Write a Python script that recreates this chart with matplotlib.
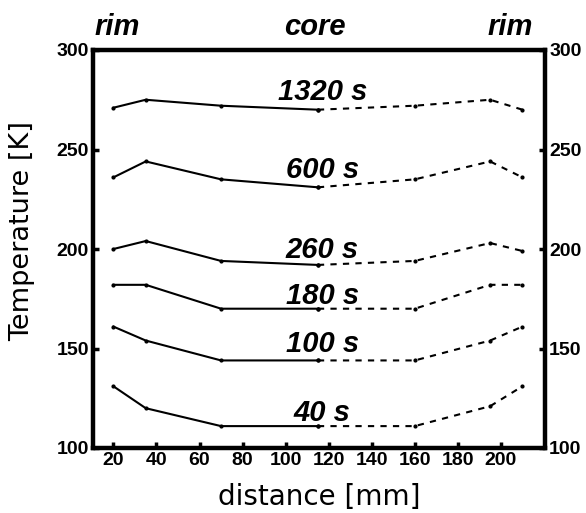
import matplotlib
matplotlib.use("Agg")
import matplotlib.pyplot as plt

# distances (mm): solid half (rim -> core) and dashed half (core -> rim)
x_solid = [20, 35, 70, 115]
x_dashed = [115, 160, 195, 210]

labels = ["1320 s", "600 s", "260 s", "180 s", "100 s", "40 s"]
solid_vals = [
    [271, 275, 272, 270],
    [236, 244, 235, 231],
    [200, 204, 194, 192],
    [182, 182, 170, 170],
    [161, 154, 144, 144],
    [131, 120, 111, 111],
]
dashed_vals = [
    [270, 272, 275, 270],
    [231, 235, 244, 236],
    [192, 194, 203, 199],
    [170, 170, 182, 182],
    [144, 144, 154, 161],
    [111, 111, 121, 131],
]
label_y = [275, 235.5, 195.7, 172.5, 148, 113.6]
label_x = 117

xticks = [20, 40, 60, 80, 100, 120, 140, 160, 180, 200]
yticks = [100, 150, 200, 250, 300]

fig = plt.figure(figsize=(5.86, 5.13), dpi=100)
ax = fig.add_axes([93/586, 1-448/513, (545-93)/586, (448-50)/513])

for sv, dv in zip(solid_vals, dashed_vals):
    ax.plot(x_solid, sv, color="black", lw=1.5, marker="o", ms=2)
    ax.plot(x_dashed, dv, color="black", lw=1.5, ls=(0, (3, 3)), marker="o", ms=2)

for lab, ly in zip(labels, label_y):
    ax.text(label_x, ly, lab, ha="center", va="baseline", fontsize=21,
            fontstyle="italic", fontweight="bold", family="Liberation Sans")

ax.set_xlim(10.5, 220.5)
ax.set_ylim(100, 300)
ax.set_xticks(xticks)
ax.set_yticks(yticks)
ax.tick_params(axis="both", direction="in", length=4, width=2.5, labelsize=14)
ax.tick_params(axis="x", pad=3)
ax.tick_params(axis="y", right=True, labelright=True, left=True, labelleft=True, pad=3)
for tk in ax.xaxis.get_major_ticks():
    tk.label1.set_fontweight("bold")
    tk.label1.set_family("Liberation Sans")
for tk in ax.yaxis.get_major_ticks():
    tk.label1.set_fontweight("bold")
    tk.label1.set_family("Liberation Sans")
    tk.label2.set_fontweight("bold")
    tk.label2.set_family("Liberation Sans")
for s in ax.spines.values():
    s.set_linewidth(3.2)

ax.set_xlabel("distance [mm]", fontsize=20, family="DejaVu Sans")
ax.xaxis.set_label_coords(0.501, -0.088)
ax.set_ylabel("Temperature [K]", fontsize=19.5, family="DejaVu Sans")
ax.yaxis.set_label_coords(-0.127, 0.545)

for txt, xp in [("rim", 117), ("core", 315), ("rim", 510)]:
    fig.text(xp/586, 1-35/513, txt, ha="center", va="baseline", fontsize=21,
             fontstyle="italic", fontweight="bold", family="Liberation Sans")

fig.savefig("out.png", dpi=100)
